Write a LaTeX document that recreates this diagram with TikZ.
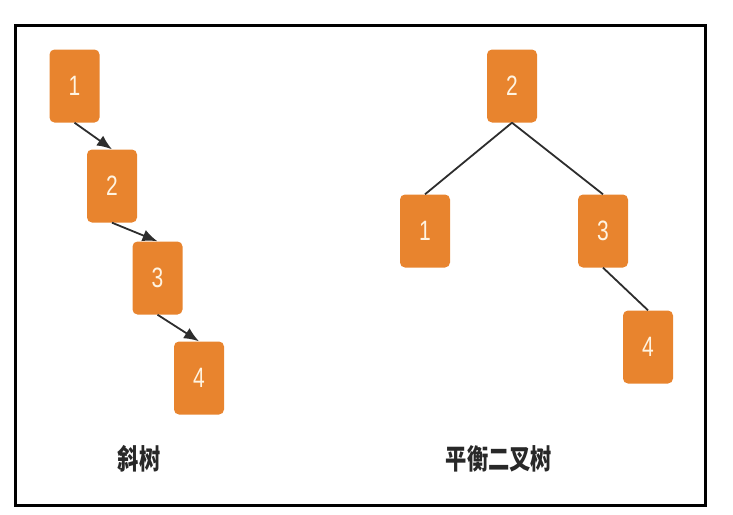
\documentclass[tikz,border=0pt]{standalone}
\usepackage{fontspec}
\setmainfont{Liberation Sans}
\newfontfamily\cjk{Noto Sans CJK SC}
\usetikzlibrary{arrows.meta}
\definecolor{nodeorange}{RGB}{232,132,46}
\definecolor{digitcol}{RGB}{255,244,226}
\definecolor{edgecol}{RGB}{45,45,45}
\definecolor{labcol}{RGB}{40,40,40}
\newcommand\hsq[1]{\scalebox{0.75}[1]{#1}}
\newcommand\hsqc[1]{\scalebox{0.76}[1]{#1}}
\begin{document}
\begin{tikzpicture}[x=1pt,y=-1pt,
  treenode/.style={rectangle, rounded corners=5pt, fill=nodeorange, draw=none,
    minimum width=50pt, minimum height=73pt, inner sep=0pt,
    text=digitcol, font=\fontsize{28}{30}\selectfont},
  arrowedge/.style={draw=edgecol, line width=1.8pt, -{Latex[length=15pt,width=12pt]}},
  plainedge/.style={draw=edgecol, line width=1.8pt},
  lab/.style={inner sep=0pt, text=labcol, font=\cjk\bfseries\fontsize{28}{30}\selectfont}]
\useasboundingbox (0,0) rectangle (733,514);
\draw[line width=3pt] (15.5,25.5) rectangle (705.5,505);
% skewed tree
\node[treenode] (a1) at (74.5,86) {\hsq{1}};
\node[treenode] (a2) at (112,186) {\hsq{2}};
\node[treenode] (a3) at (157.5,278) {\hsq{3}};
\node[treenode] (a4) at (199,378) {\hsq{4}};
\draw[arrowedge] (a1.south) -- (a2.north);
\draw[arrowedge] (a2.south) -- (a3.north);
\draw[arrowedge] (a3.south) -- (a4.north);
% balanced tree
\node[treenode] (b2) at (512,86) {\hsq{2}};
\node[treenode] (b1) at (425,231) {\hsq{1}};
\node[treenode] (b3) at (603,231) {\hsq{3}};
\node[treenode] (b4) at (648,347) {\hsq{4}};
\draw[plainedge] (b2.south) -- (b1.north);
\draw[plainedge] (b2.south) -- (b3.north);
\draw[plainedge] (b3.south) -- (b4.north);
% labels
\node[lab] (l1) at (139,459) {\hsqc{斜树}};
\node[lab] (l2) at (499,459) {\hsqc{平衡二叉树}};
\end{tikzpicture}
\end{document}
